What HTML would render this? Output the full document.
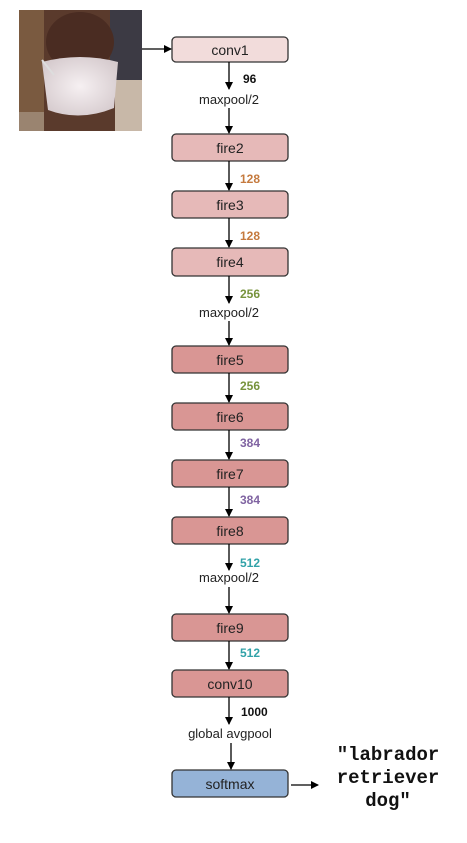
<!DOCTYPE html>
<html><head><style>body{margin:0;background:#fff}</style></head><body>
<svg width="467" height="838" xmlns="http://www.w3.org/2000/svg" font-family="Liberation Sans, sans-serif">
<defs>
<marker id="a" markerWidth="8" markerHeight="8" refX="7" refY="4" orient="auto" markerUnits="userSpaceOnUse"><path d="M0,0L8,4L0,8z" fill="#000"/></marker>
<radialGradient id="m" cx="0.5" cy="0.5" r="0.6"><stop offset="0" stop-color="#f6f0f2"/><stop offset="1" stop-color="#d5cacd"/></radialGradient>
</defs>
<rect x="19" y="10" width="123" height="121" fill="#5a3a2c"/>
<rect x="19" y="10" width="25" height="121" fill="#7a5a40"/>
<rect x="110" y="10" width="32" height="70" fill="#3c3a44"/>
<rect x="115" y="80" width="27" height="51" fill="#c8b8a8"/>
<ellipse cx="80" cy="42" rx="34" ry="30" fill="#4a2c22"/>
<path d="M42,62 Q80,52 118,62 L114,108 Q80,122 48,110 Z" fill="url(#m)"/>
<line x1="42" y1="60" x2="54" y2="75" stroke="#ddd" stroke-width="2"/>
<rect x="19" y="112" width="25" height="19" fill="#9a8470"/>
<g stroke="#333" stroke-width="1.3">
<rect x="172" y="37" width="116" height="25" rx="4" fill="#f2dcdb"/>
<rect x="172" y="134" width="116" height="27" rx="4" fill="#e6b9b8"/>
<rect x="172" y="191" width="116" height="27" rx="4" fill="#e6b9b8"/>
<rect x="172" y="248" width="116" height="28" rx="4" fill="#e6b9b8"/>
<rect x="172" y="346" width="116" height="27" rx="4" fill="#d99694"/>
<rect x="172" y="403" width="116" height="27" rx="4" fill="#d99694"/>
<rect x="172" y="460" width="116" height="27" rx="4" fill="#d99694"/>
<rect x="172" y="517" width="116" height="27" rx="4" fill="#d99694"/>
<rect x="172" y="614" width="116" height="27" rx="4" fill="#d99694"/>
<rect x="172" y="670" width="116" height="27" rx="4" fill="#d99694"/>
<rect x="172" y="770" width="116" height="27" rx="4" fill="#95b3d7"/>
</g>
<g font-size="14" text-anchor="middle" fill="#222">
<text x="230" y="55">conv1</text>
<text x="230" y="153">fire2</text>
<text x="230" y="210">fire3</text>
<text x="230" y="267">fire4</text>
<text x="230" y="365">fire5</text>
<text x="230" y="422">fire6</text>
<text x="230" y="479">fire7</text>
<text x="230" y="536">fire8</text>
<text x="230" y="633">fire9</text>
<text x="230" y="689">conv10</text>
<text x="230" y="789">softmax</text>
<text x="229" y="104" font-size="13">maxpool/2</text>
<text x="229" y="317" font-size="13">maxpool/2</text>
<text x="229" y="582" font-size="13">maxpool/2</text>
<text x="230" y="738" font-size="13">global avgpool</text>
</g>
<g stroke="#000" stroke-width="1.3" marker-end="url(#a)">
<line x1="142" y1="49" x2="171" y2="49"/>
<line x1="229" y1="62" x2="229" y2="89"/>
<line x1="229" y1="108" x2="229" y2="133"/>
<line x1="229" y1="161" x2="229" y2="190"/>
<line x1="229" y1="218" x2="229" y2="247"/>
<line x1="229" y1="276" x2="229" y2="303"/>
<line x1="229" y1="321" x2="229" y2="345"/>
<line x1="229" y1="373" x2="229" y2="402"/>
<line x1="229" y1="430" x2="229" y2="459"/>
<line x1="229" y1="487" x2="229" y2="516"/>
<line x1="229" y1="544" x2="229" y2="570"/>
<line x1="229" y1="587" x2="229" y2="613"/>
<line x1="229" y1="641" x2="229" y2="669"/>
<line x1="229" y1="697" x2="229" y2="724"/>
<line x1="231" y1="743" x2="231" y2="769"/>
<line x1="291" y1="785" x2="318" y2="785"/>
</g>
<g font-size="12" font-weight="bold">
<text x="243" y="83" fill="#111">96</text>
<text x="240" y="183" fill="#c57a3e">128</text>
<text x="240" y="240" fill="#c57a3e">128</text>
<text x="240" y="298" fill="#77933c">256</text>
<text x="240" y="390" fill="#77933c">256</text>
<text x="240" y="447" fill="#8064a2">384</text>
<text x="240" y="504" fill="#8064a2">384</text>
<text x="240" y="567" fill="#31a2a8">512</text>
<text x="240" y="657" fill="#31a2a8">512</text>
<text x="241" y="716" fill="#111">1000</text>
</g>
<g font-family="Liberation Mono, monospace" font-weight="bold" font-size="19" text-anchor="middle" fill="#111">
<text x="388" y="760">"labrador</text>
<text x="388" y="783">retriever</text>
<text x="388" y="806">dog"</text>
</g>
</svg>
</body></html>
